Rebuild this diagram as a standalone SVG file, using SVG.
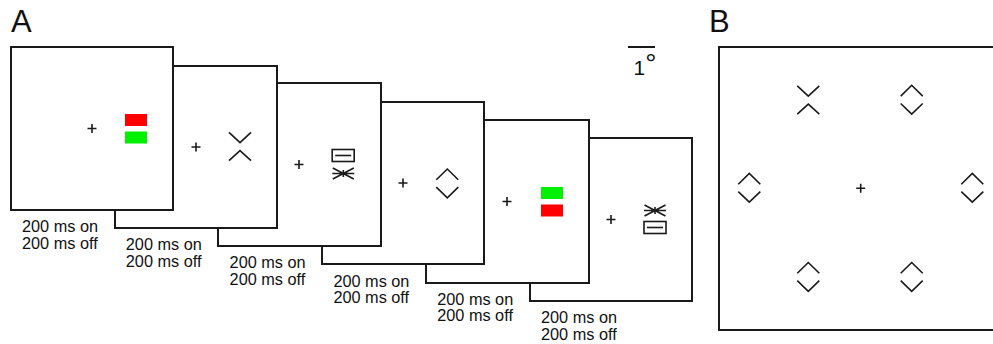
<svg xmlns="http://www.w3.org/2000/svg" xmlns:xlink="http://www.w3.org/1999/xlink" width="993" height="344" viewBox="0 0 993 344">
<style>
.frame{fill:#fff;stroke:#1a1a1a;stroke-width:2}
.sym{fill:none;stroke:#1a1a1a;stroke-width:1.6;stroke-linecap:butt}
.lbl{font-family:"Liberation Sans",Arial,sans-serif;font-size:16.3px;fill:#111}
.big{font-family:"Liberation Sans",Arial,sans-serif;font-size:31px;fill:#111}
.red{fill:#ff0000}
.green{fill:#00f000}
</style>
<defs>
<path id="cross" class="sym" d="M-4.5,0H4.5M0,-4.5V4.5"/>
<path id="xs" class="sym" d="M-11,-14.2L0,-3.8L11,-14.2M-11,14.2L0,4.2L11,14.2"/>
<path id="dm" class="sym" d="M-11,-3.6L0,-14.4L11,-3.6M-11,3.8L0,14.4L11,3.8"/>
<g id="box"><rect class="sym" x="-11" y="-6" width="22" height="12"/><path class="sym" d="M-8,0H8"/></g>
<g id="ast"><path class="sym" d="M-11,0H11M-10.5,-5.5L10.5,5.5M-10.5,5.5L10.5,-5.5"/><path class="sym" stroke-width="2.2" d="M0,-3.5V3.5"/></g>
</defs>

<g id="panel6">
<rect class="frame" x="530" y="138" width="162" height="163"/>
<use xlink:href="#cross" x="611" y="219.5"/>
<use xlink:href="#ast" x="655" y="210.5"/>
<use xlink:href="#box" x="655" y="227.5"/>
</g>
<g id="panel5">
<rect class="frame" x="426" y="120" width="163" height="163"/>
<use xlink:href="#cross" x="507" y="201.5"/>
<rect class="green" x="541" y="187" width="22" height="12"/>
<rect class="red" x="541" y="204.5" width="22" height="12"/>
</g>
<g id="panel4">
<rect class="frame" x="322" y="102" width="162" height="162"/>
<use xlink:href="#cross" x="403" y="183"/>
<use xlink:href="#dm" x="447.3" y="183.4"/>
</g>
<g id="panel3">
<rect class="frame" x="218" y="83" width="163" height="163"/>
<use xlink:href="#cross" x="299" y="164.5"/>
<use xlink:href="#box" x="343.2" y="155.5"/>
<use xlink:href="#ast" x="343.3" y="173.5"/>
</g>
<g id="panel2">
<rect class="frame" x="115" y="66" width="162" height="162"/>
<use xlink:href="#cross" x="196" y="147"/>
<use xlink:href="#xs" x="240" y="146.5"/>
</g>
<g id="panel1">
<rect class="frame" x="11" y="47" width="162" height="163"/>
<use xlink:href="#cross" x="92" y="128.5"/>
<rect class="red" x="125" y="114" width="22" height="12"/>
<rect class="green" x="125" y="131.5" width="22" height="12"/>
</g>

<g id="labels">
<text class="lbl" x="22" y="232">200 ms on<tspan x="22" dy="16.5">200 ms off</tspan></text>
<text class="lbl" x="125.8" y="250.2">200 ms on<tspan x="125.8" dy="16.5">200 ms off</tspan></text>
<text class="lbl" x="229.6" y="268.4">200 ms on<tspan x="229.6" dy="16.5">200 ms off</tspan></text>
<text class="lbl" x="333.4" y="286.6">200 ms on<tspan x="333.4" dy="16.5">200 ms off</tspan></text>
<text class="lbl" x="437.2" y="304.8">200 ms on<tspan x="437.2" dy="16.5">200 ms off</tspan></text>
<text class="lbl" x="541" y="323">200 ms on<tspan x="541" dy="16.5">200 ms off</tspan></text>
</g>

<g id="scalebar">
<path d="M628,47H655" stroke="#1a1a1a" stroke-width="2"/>
<text font-family="Liberation Sans,Arial,sans-serif" font-size="21" fill="#111" x="633.5" y="75">1<tspan font-size="28" dx="0" dy="-2">°</tspan></text>
</g>

<text class="big" x="11" y="32.3">A</text>
<text class="big" x="709" y="32.3">B</text>

<g id="panelB">
<rect class="frame" x="719" y="47" width="300" height="283"/>
<use xlink:href="#cross" x="860.7" y="188.3"/>
<use xlink:href="#xs" x="808.3" y="100"/>
<use xlink:href="#dm" x="911.7" y="99.7"/>
<use xlink:href="#dm" x="749.3" y="187.8"/>
<use xlink:href="#dm" x="972.3" y="187.8"/>
<use xlink:href="#dm" x="808.3" y="276.9"/>
<use xlink:href="#dm" x="911.7" y="276.9"/>
</g>
</svg>
